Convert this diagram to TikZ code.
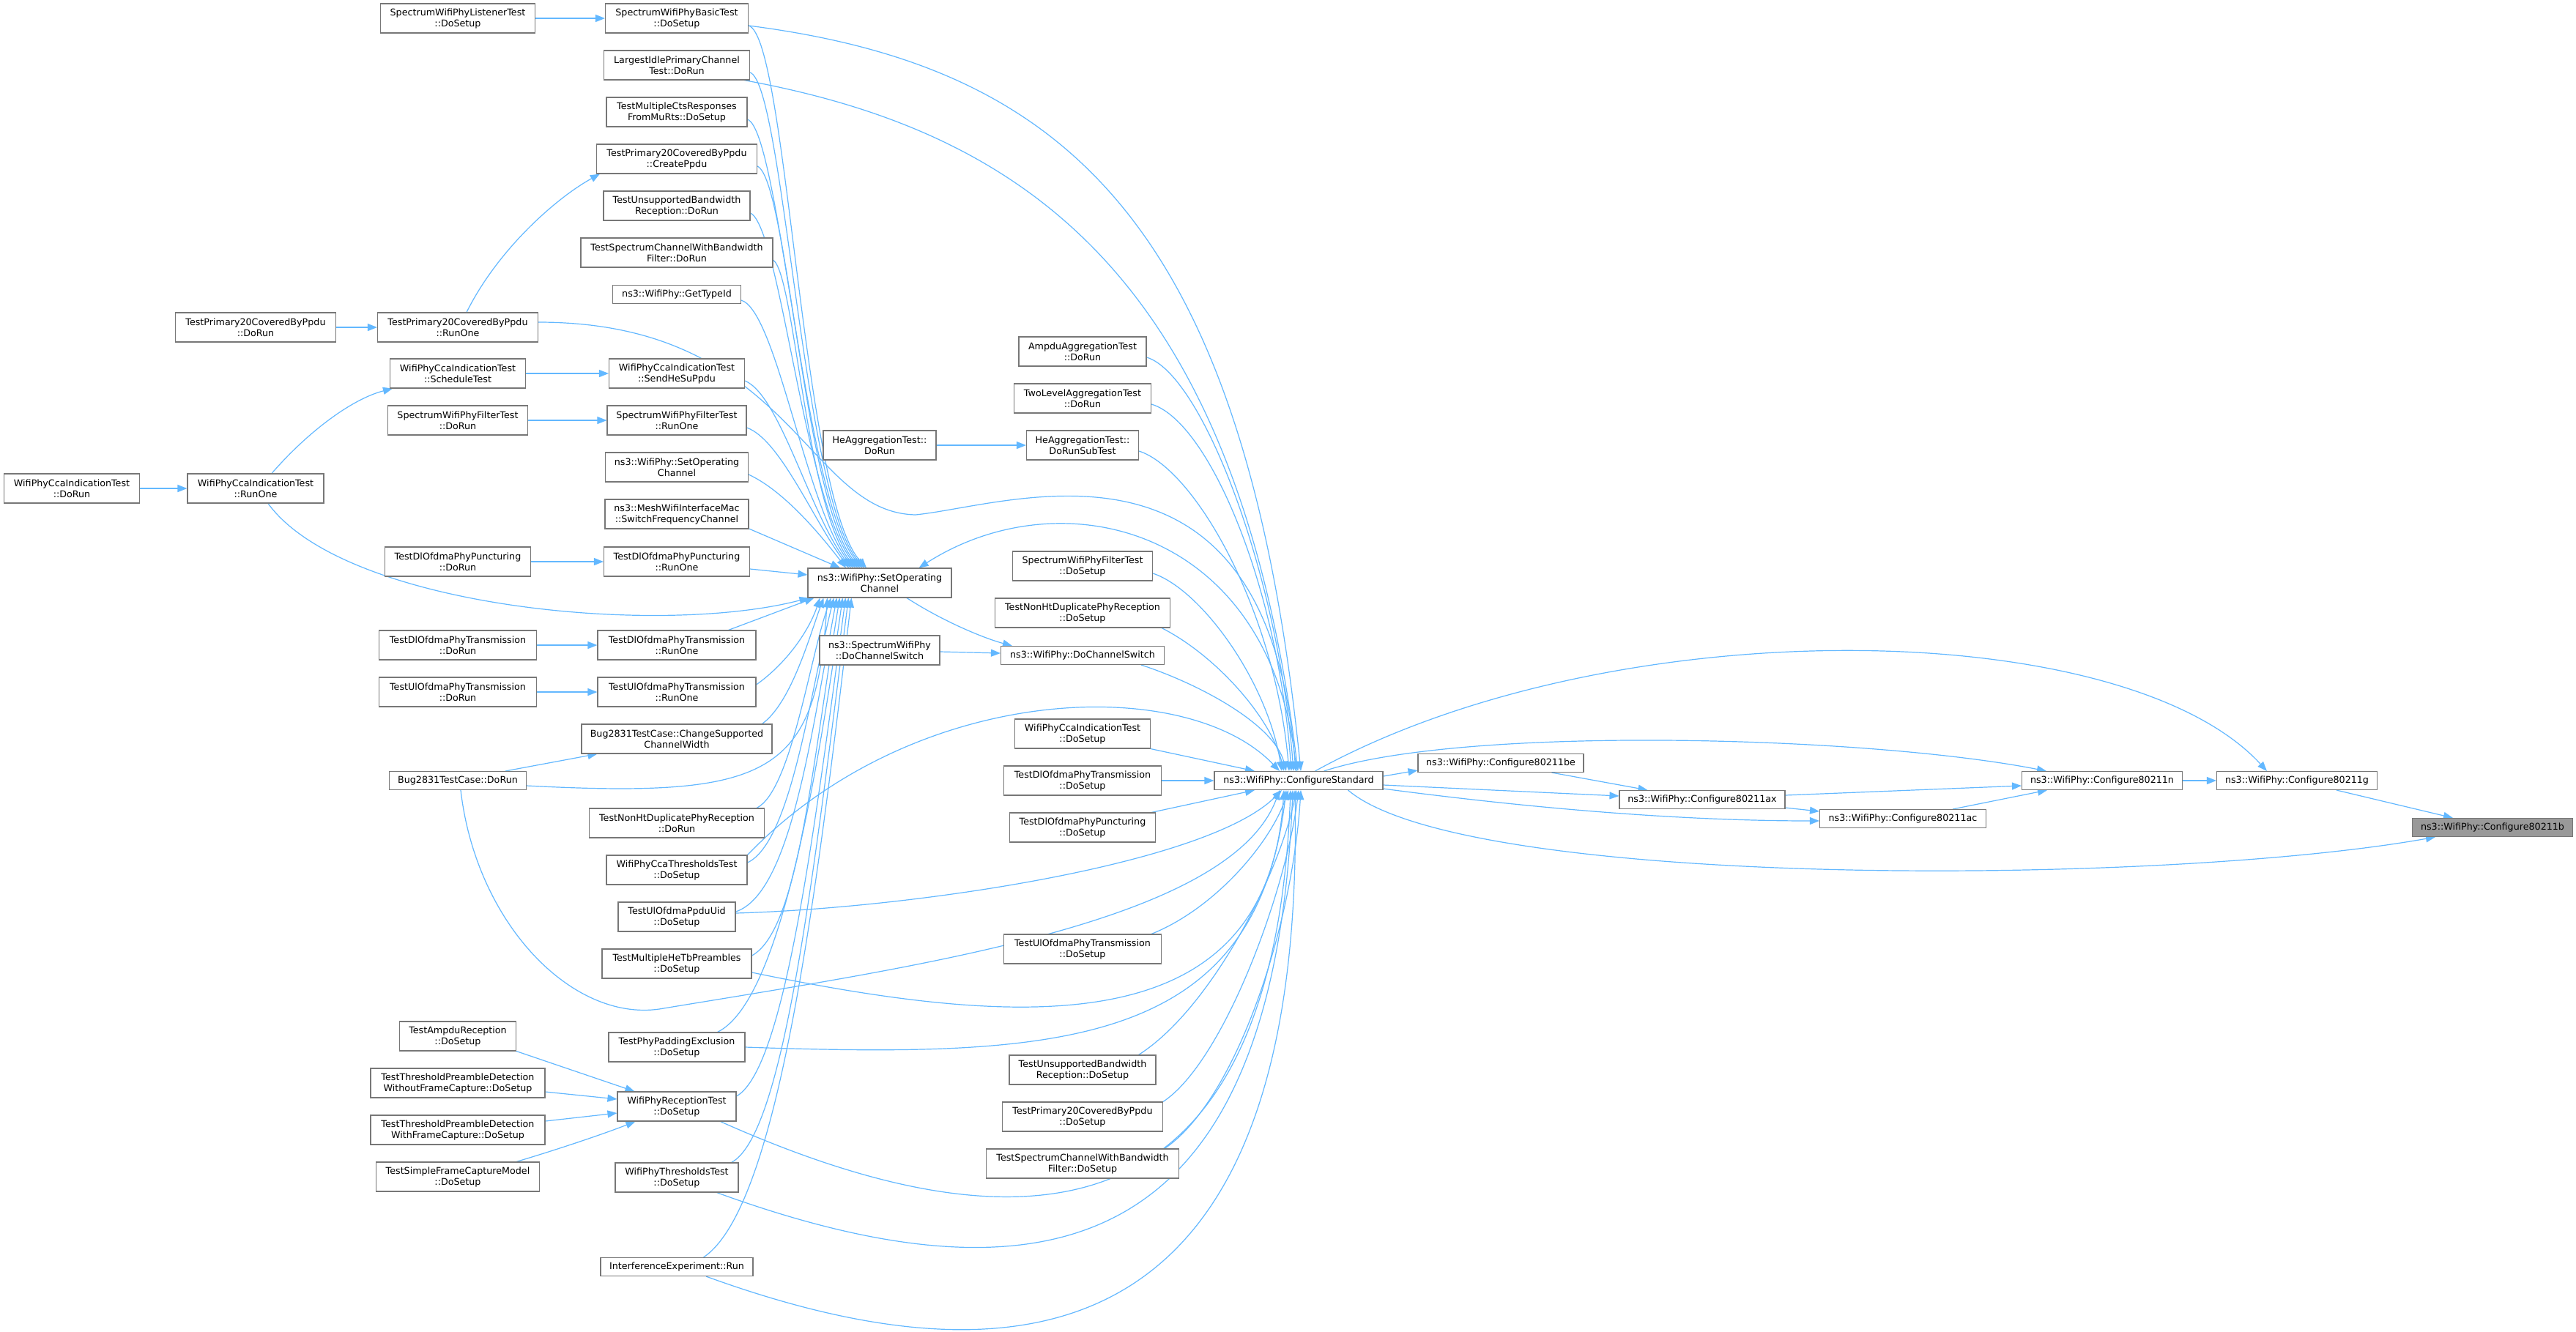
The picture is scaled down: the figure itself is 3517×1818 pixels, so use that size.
\documentclass[tikz,border=0pt]{standalone}
\usepackage{fontspec}
\setmainfont{DejaVu Sans}
\usetikzlibrary{arrows.meta,calc,backgrounds}
\definecolor{edgec}{HTML}{63B8FF}
\definecolor{boxc}{HTML}{777777}
\definecolor{hl}{HTML}{999999}
\tikzset{
  box/.style={draw=boxc, line width=1.1pt, fill=white, align=center, inner xsep=2pt, inner ysep=0pt,
    minimum height=40pt, font=\fontsize{12.7}{15}\selectfont},
  box1/.style={box, minimum height=25pt},
  edge/.style={draw=edgec, line width=1.2pt, -{Triangle[length=13pt,width=10pt]}},
}
\begin{document}
\begin{tikzpicture}[x=1pt,y=-1pt]
\useasboundingbox (0,0) rectangle (3517,1818);
% column 1-2
\node[box,minimum width=185pt] (n1) at (98,667) {WifiPhyCcaIndicationTest\\::DoRun};
\node[box,minimum width=219pt] (n2) at (349,447) {TestPrimary20CoveredByPpdu\\::DoRun};
\node[box,minimum width=186pt] (n3) at (349,667) {WifiPhyCcaIndicationTest\\::RunOne};
% column 3
\node[box,minimum width=211pt] (a1) at (625,25) {SpectrumWifiPhyListenerTest\\::DoSetup};
\node[box,minimum width=219pt] (a2) at (625,447) {TestPrimary20CoveredByPpdu\\::RunOne};
\node[box,minimum width=185pt] (a3) at (625,510) {WifiPhyCcaIndicationTest\\::ScheduleTest};
\node[box,minimum width=191pt] (a4) at (625,574) {SpectrumWifiPhyFilterTest\\::DoRun};
\node[box,minimum width=199pt] (a5) at (625,767) {TestDlOfdmaPhyPuncturing\\::DoRun};
\node[box,minimum width=215pt] (a6) at (625,881) {TestDlOfdmaPhyTransmission\\::DoRun};
\node[box,minimum width=215pt] (a7) at (625,945) {TestUlOfdmaPhyTransmission\\::DoRun};
\node[box1,minimum width=187pt] (a8) at (625,1066) {Bug2831TestCase::DoRun};
\node[box,minimum width=159pt] (a9) at (625,1415) {TestAmpduReception\\::DoSetup};
\node[box,minimum width=238pt] (a10) at (625,1479) {TestThresholdPreambleDetection\\WithoutFrameCapture::DoSetup};
\node[box,minimum width=238pt] (a11) at (625,1543) {TestThresholdPreambleDetection\\WithFrameCapture::DoSetup};
\node[box,minimum width=223pt] (a12) at (625,1607) {TestSimpleFrameCaptureModel\\::DoSetup};
% column 4
\node[box,minimum width=195pt] (b1) at (924,25) {SpectrumWifiPhyBasicTest\\::DoSetup};
\node[box,minimum width=199pt] (b2) at (924,89) {LargestIdlePrimaryChannel\\Test::DoRun};
\node[box,minimum width=192pt] (b3) at (924,153) {TestMultipleCtsResponses\\FromMuRts::DoSetup};
\node[box,minimum width=219pt] (b4) at (924,217) {TestPrimary20CoveredByPpdu\\::CreatePpdu};
\node[box,minimum width=200pt] (b5) at (924,281) {TestUnsupportedBandwidth\\Reception::DoRun};
\node[box,minimum width=262pt] (b6) at (924,345) {TestSpectrumChannelWithBandwidth\\Filter::DoRun};
\node[box1,minimum width=175pt] (b7) at (924,402) {ns3::WifiPhy::GetTypeId};
\node[box,minimum width=185pt] (b8) at (924,510) {WifiPhyCcaIndicationTest\\::SendHeSuPpdu};
\node[box,minimum width=190pt] (b9) at (924,574) {SpectrumWifiPhyFilterTest\\::RunOne};
\node[box,minimum width=195pt] (b10) at (924,638) {ns3::WifiPhy::SetOperating\\Channel};
\node[box,minimum width=196pt] (b11) at (924,702) {ns3::MeshWifiInterfaceMac\\::SwitchFrequencyChannel};
\node[box,minimum width=199pt] (b12) at (924,767) {TestDlOfdmaPhyPuncturing\\::RunOne};
\node[box,minimum width=216pt] (b13) at (924,881) {TestDlOfdmaPhyTransmission\\::RunOne};
\node[box,minimum width=216pt] (b14) at (924,945) {TestUlOfdmaPhyTransmission\\::RunOne};
\node[box,minimum width=260pt] (b15) at (924,1009) {Bug2831TestCase::ChangeSupported\\ChannelWidth};
\node[box,minimum width=239pt] (b16) at (924,1124) {TestNonHtDuplicatePhyReception\\::DoRun};
\node[box,minimum width=192pt] (b17) at (924,1188) {WifiPhyCcaThresholdsTest\\::DoSetup};
\node[box,minimum width=160pt] (b18) at (924,1252) {TestUlOfdmaPpduUid\\::DoSetup};
\node[box,minimum width=204pt] (b19) at (924,1316) {TestMultipleHeTbPreambles\\::DoSetup};
\node[box,minimum width=186pt] (b20) at (924,1430) {TestPhyPaddingExclusion\\::DoSetup};
\node[box,minimum width=162pt] (b21) at (924,1511) {WifiPhyReceptionTest\\::DoSetup};
\node[box,minimum width=168pt] (b22) at (924,1608) {WifiPhyThresholdsTest\\::DoSetup};
\node[box1,minimum width=208pt] (b23) at (924,1730) {InterferenceExperiment::Run};
% column 5
\node[box,minimum width=196pt] (S) at (1201,796) {ns3::WifiPhy::SetOperating\\Channel};
\node[box,minimum width=154pt] (c1) at (1201,608) {HeAggregationTest::\\DoRun};
\node[box,minimum width=164pt] (c2) at (1201,888) {ns3::SpectrumWifiPhy\\::DoChannelSwitch};
% column 6
\node[box,minimum width=174pt] (d1) at (1478,480) {AmpduAggregationTest\\::DoRun};
\node[box,minimum width=187pt] (d2) at (1478,544) {TwoLevelAggregationTest\\::DoRun};
\node[box,minimum width=153pt] (d3) at (1478,608) {HeAggregationTest::\\DoRunSubTest};
\node[box,minimum width=191pt] (d4) at (1478,773) {SpectrumWifiPhyFilterTest\\::DoSetup};
\node[box,minimum width=239pt] (d5) at (1478,837) {TestNonHtDuplicatePhyReception\\::DoSetup};
\node[box1,minimum width=223pt] (d6) at (1478,895) {ns3::WifiPhy::DoChannelSwitch};
\node[box,minimum width=185pt] (d7) at (1478,1002) {WifiPhyCcaIndicationTest\\::DoSetup};
\node[box,minimum width=215pt] (d8) at (1478,1066) {TestDlOfdmaPhyTransmission\\::DoSetup};
\node[box,minimum width=199pt] (d9) at (1478,1130) {TestDlOfdmaPhyPuncturing\\::DoSetup};
\node[box,minimum width=215pt] (d10) at (1478,1296) {TestUlOfdmaPhyTransmission\\::DoSetup};
\node[box,minimum width=200pt] (d11) at (1478,1461) {TestUnsupportedBandwidth\\Reception::DoSetup};
\node[box,minimum width=219pt] (d12) at (1478,1525) {TestPrimary20CoveredByPpdu\\::DoSetup};
\node[box,minimum width=263pt] (d13) at (1478,1589) {TestSpectrumChannelWithBandwidth\\Filter::DoSetup};
% right part
\node[box1,minimum width=230pt] (C) at (1773,1066) {ns3::WifiPhy::ConfigureStandard};
\node[box1,minimum width=226pt] (be) at (2049,1042) {ns3::WifiPhy::Configure80211be};
\node[box1,minimum width=226pt] (ax) at (2324,1092) {ns3::WifiPhy::Configure80211ax};
\node[box1,minimum width=227pt] (ac) at (2598,1118) {ns3::WifiPhy::Configure80211ac};
\node[box1,minimum width=219pt] (n) at (2870,1066) {ns3::WifiPhy::Configure80211n};
\node[box1,minimum width=219pt] (g) at (3136,1066) {ns3::WifiPhy::Configure80211g};
\node[box1,minimum width=219pt,fill=hl] (b) at (3403,1130) {ns3::WifiPhy::Configure80211b};

\begin{pgfonlayer}{background}
\fill[white] (0,0) rectangle (3517,1818);
% simple left edges
\draw[edge] (a1.east) -- (b1.west);
\draw[edge] (n2.east) -- (a2.west);
\draw[edge] (n1.east) -- (n3.west);
\draw[edge] (a3.east) -- (b8.west);
\draw[edge] (a4.east) -- (b9.west);
\draw[edge] (a5.east) -- (b12.west);
\draw[edge] (a6.east) -- (b13.west);
\draw[edge] (a7.east) -- (b14.west);
\draw[edge] ($(a2.north)+(12,0)$) .. controls (680,340) and (760,270) .. ($(b4.south west)+(5,0)$);
\draw[edge] ($(n3.north)+(22,0)$) .. controls (420,590) and (480,545) .. ($(a3.south west)+(4,0)$);
\draw[edge] ($(n3.south)+(17,0)$) .. controls (470,830) and (900,870) .. ($(S.south west)+(2,0)$);
\draw[edge] ($(a8.north east)+(-29,0)$) -- ($(b15.south west)+(22,0)$);
\draw[edge] (a9.south east) -- ($(b21.north west)+(24,0)$);
\draw[edge] ($(a10.east)+(0,12)$) -- ($(b21.west)+(0,-10)$);
\draw[edge] ($(a11.east)+(0,-12)$) -- ($(b21.west)+(0,9)$);
\draw[edge] ($(a12.north east)+(-32,0)$) .. controls (760,1570) and (820,1550) .. ($(b21.south west)+(25,0)$);
% into SetOperatingChannel from above
\draw[edge] ($(b1.east)+(0,10)$) .. controls (1075,50) and (1095,680) .. ($(S.north)+(-18,0)$);
\draw[edge] ($(b2.east)+(0,10)$) .. controls (1070,115) and (1096,680) .. ($(S.north)+(-21,0)$);
\draw[edge] ($(b3.east)+(0,10)$) .. controls (1065,180) and (1097,680) .. ($(S.north)+(-24,0)$);
\draw[edge] ($(b4.east)+(0,10)$) .. controls (1075,245) and (1098,685) .. ($(S.north)+(-27,0)$);
\draw[edge] ($(b5.east)+(0,10)$) .. controls (1065,310) and (1099,685) .. ($(S.north)+(-30,0)$);
\draw[edge] ($(b6.east)+(0,10)$) .. controls (1085,375) and (1100,690) .. ($(S.north)+(-33,0)$);
\draw[edge] ($(b7.east)+(0,8)$) .. controls (1060,425) and (1100,690) .. ($(S.north)+(-36,0)$);
\draw[edge] ($(b8.east)+(0,10)$) .. controls (1065,540) and (1105,700) .. ($(S.north)+(-39,0)$);
\draw[edge] ($(b9.east)+(0,10)$) .. controls (1065,600) and (1110,710) .. ($(S.north)+(-42,0)$);
\draw[edge] ($(b10.east)+(0,10)$) .. controls (1070,670) and (1120,730) .. ($(S.north)+(-46,0)$);
\draw[edge] ($(b11.east)+(0,20)$) -- ($(S.north)+(-54,0)$);
\draw[edge] ($(b12.east)+(0,10)$) -- ($(S.west)+(0,-11)$);
% into SetOperatingChannel from below
\draw[edge] ($(b13.north east)+(-38,0)$) -- ($(S.south west)+(9,0)$);
\draw[edge] ($(b14.east)+(0,-10)$) .. controls (1075,905) and (1105,860) .. ($(S.south west)+(17,0)$);
\draw[edge] ($(b15.north east)+(-14,0)$) .. controls (1080,960) and (1105,870) .. ($(S.south west)+(22,0)$);
\draw[edge] ($(a8.east)+(0,7)$) .. controls (1050,1090) and (1115,1060) .. ($(S.south west)+(27,0)$);
\draw[edge] ($(b16.north east)+(-11,0)$) .. controls (1080,1080) and (1105,900) .. ($(S.south west)+(32,0)$);
\draw[edge] ($(b17.east)+(0,-10)$) .. controls (1080,1150) and (1105,950) .. ($(S.south west)+(36,0)$);
\draw[edge] ($(b18.east)+(0,-7)$) .. controls (1080,1220) and (1108,1000) .. ($(S.south west)+(40,0)$);
\draw[edge] ($(b19.east)+(0,-11)$) .. controls (1090,1270) and (1108,1050) .. ($(S.south west)+(44,0)$);
\draw[edge] ($(b20.north east)+(-38,0)$) .. controls (1060,1370) and (1110,1100) .. ($(S.south west)+(48,0)$);
\draw[edge] ($(b21.east)+(0,-14)$) .. controls (1070,1460) and (1110,1150) .. ($(S.south west)+(52,0)$);
\draw[edge] ($(b22.north east)+(-10,0)$) .. controls (1070,1550) and (1110,1200) .. ($(S.south west)+(56,0)$);
\draw[edge] ($(b23.north east)+(-68,0)$) .. controls (1060,1650) and (1112,1250) .. ($(S.south west)+(60,0)$);
% column 5 links
\draw[edge] (c1.east) -- (d3.west);
\draw[edge] ($(c2.east)+(0,2)$) -- ($(d6.west)+(0,-3)$);
\draw[edge] ($(S.south)+(37,0)$) .. controls (1290,850) and (1345,872) .. ($(d6.north west)+(16,0)$);
\draw[edge] ($(C.north)+(-3,0)$) .. controls (1740,720) and (1450,650) .. ($(S.north east)+(-45,0)$);
% into ConfigureStandard from far left
\draw[edge] ($(b1.east)+(0,10)$) .. controls (1450,90) and (1700,300) .. ($(C.north)+(3,0)$);
\draw[edge] ($(b2.south east)+(-8,0)$) .. controls (1400,180) and (1690,380) .. ($(C.north)+(-1,0)$);
\draw[edge] ($(a2.east)+(0,-7)$) .. controls (1080,440) and (1100,700) .. (1250,703) .. controls (1380,690) and (1730,560) .. ($(C.north)+(-4,0)$);
\draw[edge] (b17.north east) .. controls (1250,930) and (1620,920) .. ($(C.north)+(-26,0)$);
\draw[edge] ($(b18.east)+(0,-5)$) .. controls (1250,1240) and (1650,1180) .. ($(C.south)+(-23,0)$);
\draw[edge] ($(b19.east)+(0,12)$) .. controls (1400,1405) and (1730,1425) .. ($(C.south)+(-20,0)$);
\draw[edge] (b20.east) .. controls (1450,1445) and (1715,1430) .. ($(C.south)+(-17,0)$);
\draw[edge] ($(b21.south east)+(-22,0)$) .. controls (1450,1740) and (1740,1650) .. ($(C.south)+(-11,0)$);
\draw[edge] ($(b22.south east)+(-30,0)$) .. controls (1450,1800) and (1740,1700) .. ($(C.south)+(-8,0)$);
\draw[edge] ($(b23.south)+(40,0)$) .. controls (1450,1920) and (1780,1800) .. ($(C.south)+(-5,0)$);
\draw[edge] ($(a8.south)+(4,0)$) .. controls (650,1260) and (780,1395) .. (900,1378) .. controls (1250,1320) and (1680,1260) .. ($(C.south)+(-26,0)$);
% into ConfigureStandard from column 6
\draw[edge] ($(d1.east)+(0,8)$) .. controls (1640,510) and (1745,780) .. ($(C.north)+(-7,0)$);
\draw[edge] ($(d2.east)+(0,8)$) .. controls (1650,575) and (1745,800) .. ($(C.north)+(-10,0)$);
\draw[edge] ($(d3.east)+(0,8)$) .. controls (1630,640) and (1740,830) .. ($(C.north)+(-13,0)$);
\draw[edge] ($(d4.east)+(0,10)$) .. controls (1640,805) and (1730,930) .. ($(C.north)+(-23,0)$);
\draw[edge] ($(d5.south east)+(-12,0)$) .. controls (1660,895) and (1735,980) .. ($(C.north)+(-20,0)$);
\draw[edge] ($(d6.south east)+(-32,0)$) .. controls (1640,935) and (1740,990) .. ($(C.north)+(-17,0)$);
\draw[edge] (d7.south east) -- ($(C.north)+(-60,0)$);
\draw[edge] (d8.east) -- (C.west);
\draw[edge] ($(d9.north east)+(-6,0)$) -- ($(C.south)+(-60,0)$);
\draw[edge] ($(d10.north east)+(-14,0)$) .. controls (1660,1240) and (1735,1150) .. ($(C.south)+(-14,0)$);
\draw[edge] ($(d11.north east)+(-24,0)$) .. controls (1650,1380) and (1745,1200) .. ($(C.south)+(-3,0)$);
\draw[edge] (d12.north east) .. controls (1670,1450) and (1755,1220) .. ($(C.south)+(0,0)$);
\draw[edge] ($(d13.north east)+(-20,0)$) .. controls (1690,1500) and (1765,1260) .. ($(C.south)+(3,0)$);
% ConfigureStandard outgoing
\draw[edge] ($(C.east)+(0,-6)$) -- ($(be.west)+(0,10)$);
\draw[edge] ($(C.east)+(0,6)$) -- ($(ax.west)+(0,-5)$);
\draw[edge] ($(C.south east)+(0,-2)$) .. controls (2100,1105) and (2300,1121) .. ($(ac.west)+(0,3)$);
\draw[edge] ($(C.north east)+(-81,0)$) .. controls (2000,990) and (2550,1005) .. ($(n.north west)+(34,0)$);
\draw[edge] ($(C.north east)+(-93,0)$) .. controls (2200,830) and (2900,840) .. ($(g.north west)+(69,0)$);
\draw[edge] ($(C.south east)+(-48,0)$) .. controls (2000,1215) and (2950,1210) .. ($(b.south west)+(32,0)$);
\draw[edge] ($(be.south east)+(-44,0)$) -- ($(ax.north west)+(39,0)$);
\draw[edge] ($(ax.east)+(0,-6)$) -- ($(n.west)+(0,7)$);
\draw[edge] ($(ax.south east)+(0,-2)$) -- ($(ac.west)+(0,-10)$);
\draw[edge] ($(ac.north east)+(-46,0)$) -- ($(n.south west)+(35,0)$);
\draw[edge] (n.east) -- (g.west);
\draw[edge] ($(g.south east)+(-56,0)$) -- ($(b.north west)+(56,0)$);
\end{pgfonlayer}
\end{tikzpicture}
\end{document}
